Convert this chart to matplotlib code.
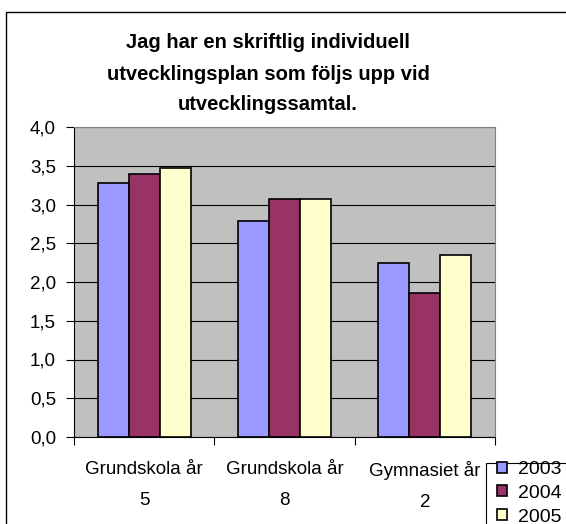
import matplotlib
matplotlib.use("Agg")
import matplotlib.pyplot as plt
import numpy as np
from matplotlib.patches import Rectangle

# Data
categories = ["Grundskola år\n5", "Grundskola år\n8", "Gymnasiet år\n2"]
years = ["2003", "2004", "2005"]
v2003 = [3.28, 2.79, 2.25]
v2004 = [3.39, 3.07, 1.86]
v2005 = [3.47, 3.07, 2.35]
colors = ["#9999FF", "#993366", "#FFFFCC"]

plt.rcParams['font.family'] = ['Liberation Sans', 'DejaVu Sans']

W, H = 566, 524
fig = plt.figure(figsize=(W / 100, H / 100), dpi=100)
ax = fig.add_axes([74 / W, 1 - 437 / H, (495 - 74) / W, (437 - 127) / H])
ax.set_facecolor("#C0C0C0")

x = np.arange(len(categories))
bw = 0.221
for i, (vals, c, lab) in enumerate(zip([v2003, v2004, v2005], colors, years)):
    ax.bar(x + (i - 1) * bw, vals, bw, color=c, edgecolor="black",
           linewidth=1.2, label=lab, zorder=3)

ax.set_xlim(-0.5, 2.5)
ax.set_ylim(0, 4.0)
yt = np.arange(0, 4.01, 0.5)
ax.set_yticks(yt)
ax.set_yticklabels([f"{v:.1f}".replace(".", ",") for v in yt], fontsize=13.5)
ax.yaxis.grid(True, color="black", linewidth=0.8, zorder=1)
ax.set_axisbelow(True)
ax.tick_params(axis="y", direction="out", length=6, width=0.8, pad=7)

# category ticks at boundaries, labels at centers
ax.set_xticks([-0.5, 0.5, 1.5, 2.5])
ax.set_xticklabels([])
ax.set_xticks(x, minor=True)
ax.set_xticklabels(categories, minor=True, fontsize=13.5, linespacing=2.1)
ax.tick_params(axis="x", which="major", direction="out", length=6, width=0.8)
ax.tick_params(axis="x", which="minor", length=0, pad=17)

for s in ["top", "right"]:
    ax.spines[s].set_color("#808080")
for s in ["left", "bottom"]:
    ax.spines[s].set_color("black")

fig.text(268 / W, 1 - 74 / H,
         "Jag har en skriftlig individuell\nutvecklingsplan som följs upp vid\nutvecklingssamtal.",
         ha="center", va="center", fontsize=14.5, fontweight="bold", linespacing=1.8)

# outer chart border
fig.patches.append(Rectangle((6 / W, -0.1), 1.2, 1 - 12 / H + 0.1,
                             transform=fig.transFigure, fill=False,
                             edgecolor="black", linewidth=1))

# legend frame (runs off the figure edge) and entries
fig.patches.append(Rectangle((486 / W, -0.1), 0.5, 1 - 463 / H + 0.1,
                             transform=fig.transFigure, facecolor="white",
                             edgecolor="black", linewidth=0.8))
leg = fig.legend(loc="upper left", bbox_to_anchor=(497 / W, 1 - 461 / H),
                 fontsize=14, frameon=False,
                 handlelength=0.5, handleheight=0.5, handletextpad=0.6,
                 labelspacing=0.35, borderpad=0, borderaxespad=0)

fig.savefig("out.png", dpi=100)
